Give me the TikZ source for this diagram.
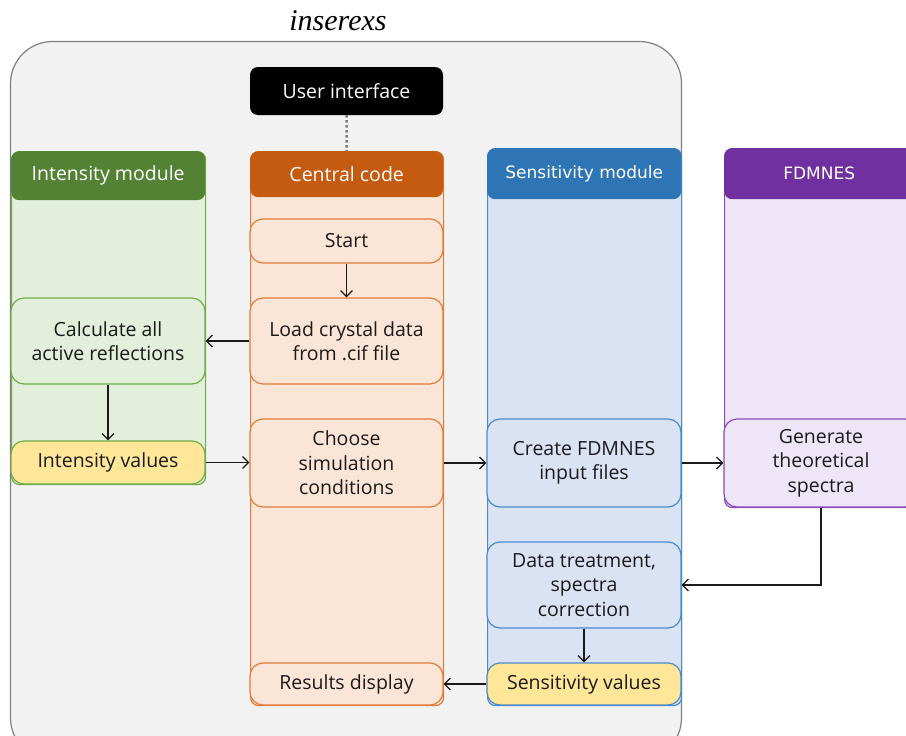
\documentclass[tikz,border=0pt]{standalone}
\usepackage{fontspec}
\setmainfont{Open Sans}
\newfontfamily\titlefont{Liberation Serif}
\newfontfamily\hdfont{DejaVu Sans}
\usetikzlibrary{arrows.meta}
\definecolor{outerfill}{HTML}{F2F2F2}
\definecolor{outerline}{HTML}{7F7F7F}
\definecolor{ghead}{HTML}{548235}
\definecolor{gline}{HTML}{70AD47}
\definecolor{gfill}{HTML}{E2EFDA}
\definecolor{ohead}{HTML}{C55A11}
\definecolor{oline}{HTML}{E07B39}
\definecolor{ofill}{HTML}{FBE5D6}
\definecolor{bhead}{HTML}{2E75B6}
\definecolor{bline}{HTML}{4A8AC9}
\definecolor{bfill}{HTML}{DAE3F3}
\definecolor{phead}{HTML}{7030A0}
\definecolor{pline}{HTML}{8A4BB8}
\definecolor{pfill}{HTML}{EEE6F6}
\definecolor{yfill}{HTML}{FFE699}
\definecolor{txt}{HTML}{1A1A1A}
\tikzset{
  column/.style={draw=#1, line width=1.2pt, rounded corners=8pt, anchor=north west, inner sep=0pt},
  header/.style={fill=#1, rounded corners=8pt, anchor=north west, inner sep=0pt, text=white,
     font=\fontsize{19.5}{21}\selectfont},
  stepbox/.style={draw=#1, line width=1.2pt, rounded corners=13pt, align=center, inner sep=0pt,
     text=txt, font=\fontsize{19.5}{24.5}\selectfont},
  flow/.style={-{Straight Barb[length=6pt,width=12pt]}, line width=1.2pt, draw=txt},
}
\begin{document}
\begin{tikzpicture}[x=1pt,y=-1pt]
\useasboundingbox (0,0) rectangle (906,736);
\clip (0,0) rectangle (906,736);
% outer frame
\draw[fill=outerfill, draw=outerline, line width=1.2pt, rounded corners=42pt] (10.5,41.5) rectangle (681.5,760);
\node[font=\titlefont\itshape\fontsize{30}{30}\selectfont, text=black] (title) at (338,21) {inserexs};
% user interface
\node[fill=black, rounded corners=8pt, minimum width=193pt, minimum height=48pt, text=white,
      font=\fontsize{19.5}{21}\selectfont, inner sep=0pt] (ui) at (346.5,91) {User interface};
% columns
\node[column=gline, fill=gfill, minimum width=194pt, minimum height=333pt] (colI) at (11,151) {};
\node[column=oline, fill=ofill, minimum width=193pt, minimum height=554pt] (colC) at (250,151) {};
\node[column=bline, fill=bfill, minimum width=194pt, minimum height=557pt] (colS) at (487,148) {};
\node[column=pline, fill=pfill, minimum width=200pt, minimum height=359pt] (colF) at (724,148) {};
% headers
\node[header=ghead, minimum width=194pt, minimum height=49pt] (hI) at (11,151) {Intensity module};
\node[header=ohead, minimum width=193pt, minimum height=46pt] (hC) at (250,151) {Central code};
\node[header=bhead, minimum width=194pt, minimum height=51pt, font=\hdfont\fontsize{17}{20}\selectfont] (hS) at (487,148) {Sensitivity module};
\node[header=phead, minimum width=200pt, minimum height=51pt, font=\hdfont\fontsize{17}{20}\selectfont] (hF) at (724,148) {\hspace*{-10pt}FDMNES};
\draw[outerline, line width=2.5pt, dash pattern=on 2.5pt off 2.5pt] (ui.south) -- (hC.north);
% central code steps
\node[stepbox=oline, fill=ofill, minimum width=193pt, minimum height=44pt] (start) at (346.5,241) {Start};
\node[stepbox=oline, fill=ofill, minimum width=193pt, minimum height=86pt] (load) at (346.5,341) {Load crystal data\\from .cif file};
\node[stepbox=oline, fill=ofill, minimum width=193pt, minimum height=88pt] (choose) at (346.5,463) {Choose\\simulation\\conditions};
\node[stepbox=oline, fill=ofill, minimum width=193pt, minimum height=42pt] (results) at (346.5,684) {Results display};
% intensity steps
\node[stepbox=gline, fill=gfill, minimum width=194pt, minimum height=86pt] (calc) at (108,341) {Calculate all\\active reflections};
\node[stepbox=gline, fill=yfill, minimum width=194pt, minimum height=43pt] (ival) at (108,462.5) {Intensity values};
% sensitivity steps
\node[stepbox=bline, fill=bfill, minimum width=194pt, minimum height=88pt] (create) at (584,463) {Create FDMNES\\input files};
\node[stepbox=bline, fill=bfill, minimum width=194pt, minimum height=86pt] (data) at (584,585) {Data treatment,\\spectra\\correction};
\node[stepbox=bline, fill=yfill, minimum width=194pt, minimum height=42pt] (sval) at (584,684) {Sensitivity values};
% FDMNES step
\node[stepbox=pline, fill=pfill, minimum width=194pt, minimum height=88pt] (gen) at (821,463) {Generate\\theoretical\\spectra};
% connectors
\draw[flow] (start) -- (load);
\draw[flow] (load) -- (calc);
\draw[flow] (calc) -- (ival);
\draw[flow] (ival) -- (choose.west |- ival.east);
\draw[flow] (choose) -- (create);
\draw[flow] (create) -- (gen);
\draw[flow] (gen.south) |- (data.east);
\draw[flow] (data) -- (sval);
\draw[flow] (sval) -- (results);
\end{tikzpicture}
\end{document}
